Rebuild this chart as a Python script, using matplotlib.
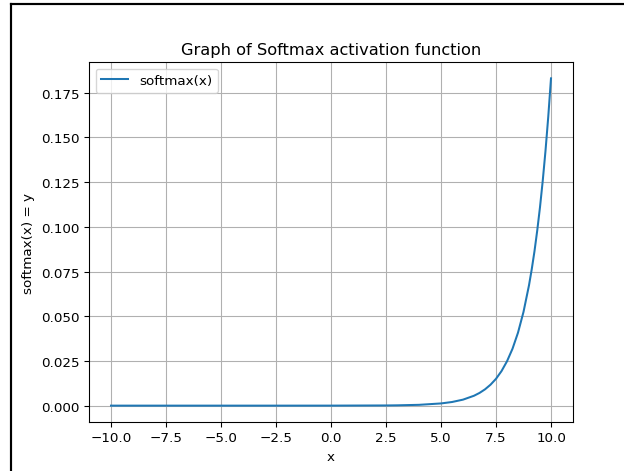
import matplotlib
matplotlib.use('Agg')
import matplotlib.pyplot as plt
from matplotlib.lines import Line2D

x_vals = [-10.0, -7.5, -5.0, -2.5, 0.0, 2.5, 3.0, 4.0, 5.0, 5.5, 6.0, 6.5, 6.75, 7.0,
          7.25, 7.5, 7.75, 8.0, 8.25, 8.5, 8.75, 9.0, 9.125, 9.25, 9.375, 9.5, 9.625,
          9.75, 9.875, 10.0]
y_vals = [0.0, 0.0, 0.0, 0.0, 0.00001, 0.0001, 0.00017, 0.00045, 0.00123, 0.00203,
          0.00335, 0.00553, 0.0071, 0.00911, 0.0117, 0.0150, 0.0193, 0.0248, 0.0318,
          0.0408, 0.0524, 0.0673, 0.0763, 0.0864, 0.0980, 0.111, 0.1258, 0.1425,
          0.1615, 0.183]

W, H = 624, 472
DPI = 97.5
fig = plt.figure(figsize=(W / DPI, H / DPI), dpi=DPI)
ax = fig.add_axes([89 / W, 1 - 423 / H, (573 - 89) / W, (423 - 63) / H])

ax.plot(x_vals, y_vals, label='softmax(x)')
ax.set_title('Graph of Softmax activation function')
ax.set_xlabel('x')
ax.set_ylabel('softmax(x) = y')
ax.set_xticks([-10.0, -7.5, -5.0, -2.5, 0.0, 2.5, 5.0, 7.5, 10.0])
ax.set_yticks([0.0, 0.025, 0.05, 0.075, 0.1, 0.125, 0.15, 0.175])
ax.grid(True)
ax.legend(loc='upper left')

# zwarte rand van de schermafbeelding
fig.add_artist(Line2D([10.5 / W, 10.5 / W], [0, 1 - 5 / H], color='black', linewidth=1.6,
                      transform=fig.transFigure))
fig.add_artist(Line2D([10.5 / W, 1], [1 - 5 / H, 1 - 5 / H], color='black', linewidth=1.6,
                      transform=fig.transFigure))

fig.savefig('out.png', dpi=DPI)
